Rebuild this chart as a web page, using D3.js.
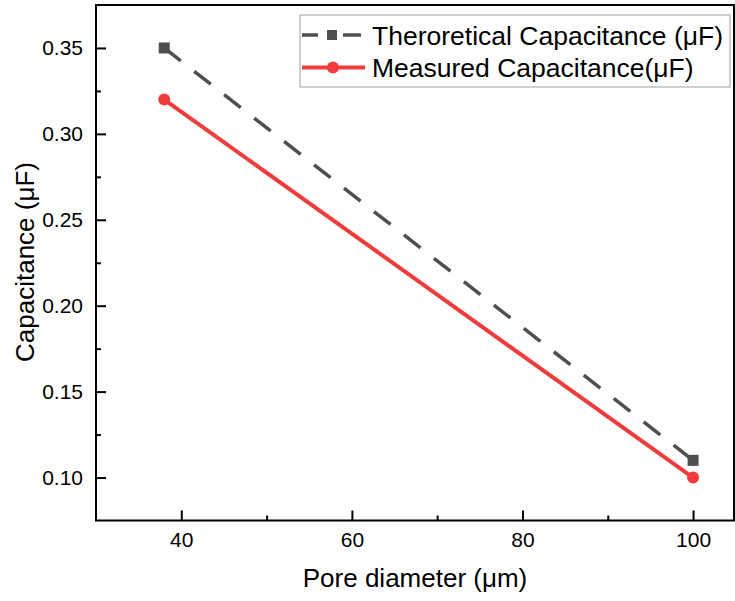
<!DOCTYPE html>
<html>
<head>
<meta charset="utf-8">
<script src="https://cdn.jsdelivr.net/npm/d3@7"></script>
<style>
  html, body { margin: 0; padding: 0; background: #fff; }
  svg { display: block; font-family: Arial, "Liberation Sans", sans-serif; }
</style>
</head>
<body>
<svg id="chart" width="735" height="601"></svg>
<script>
const poreDiameter = [38, 100];
const theoretical = [0.35, 0.11];
const measured = [0.32, 0.10];
const seriesNames = ["Theroretical Capacitance (\u03BCF)", "Measured Capacitance(\u03BCF)"];
const xTicks = [40, 60, 80, 100];
const xMinorTicks = [50, 70, 90];
const yTicks = [0.10, 0.15, 0.20, 0.25, 0.30, 0.35];
const yMinorTicks = [0.125, 0.175, 0.225, 0.275, 0.325];
const xTitle = "Pore diameter (\u03BCm)";
const yTitle = "Capacitance (\u03BCF)";

const svg = d3.select("#chart");
const L = 96, R = 734, T = 5, B = 520.5;
const x = d3.scaleLinear().domain([30, 104.8]).range([L, R]);
const y = d3.scaleLinear().domain([0.075, 0.375]).range([B, T]);

const grayC = "#4f4f4f", redC = "#f03c3c";

// frame
svg.append("rect").attr("x", L).attr("y", T).attr("width", R - L).attr("height", B - T)
  .attr("fill", "none").attr("stroke", "#000").attr("stroke-width", 2);

// axes (inside ticks)
const xAxis = svg.append("g").attr("transform", `translate(0,${B})`)
  .call(d3.axisBottom(x).tickValues(xTicks).tickSize(-10).tickPadding(12).tickFormat(d3.format("d")));
const xMinor = svg.append("g").attr("transform", `translate(0,${B})`)
  .call(d3.axisBottom(x).tickValues(xMinorTicks).tickSize(-5).tickFormat(""));
const yAxis = svg.append("g").attr("transform", `translate(${L},0)`)
  .call(d3.axisLeft(y).tickValues(yTicks).tickSize(-10).tickPadding(13).tickFormat(d3.format(".2f")));
const yMinor = svg.append("g").attr("transform", `translate(${L},0)`)
  .call(d3.axisLeft(y).tickValues(yMinorTicks).tickSize(-5).tickFormat(""));
[xAxis, xMinor, yAxis, yMinor].forEach(g => {
  g.select(".domain").remove();
  g.selectAll(".tick line").attr("stroke", "#000").attr("stroke-width", 2);
  g.selectAll(".tick text").attr("fill", "#000").style("font-size", "21px")
    .style("font-family", "Arial, 'Liberation Sans', sans-serif");
});
xAxis.selectAll(".tick text").attr("dy", "0.71em");

// axis titles
svg.append("text").attr("x", (L + R) / 2).attr("y", 587).attr("text-anchor", "middle")
  .style("font-size", "26px").text(xTitle);
svg.append("text").attr("transform", `translate(34,262) rotate(-90)`).attr("text-anchor", "middle")
  .style("font-size", "26px").text(yTitle);

// lines
const line = d3.line().x(d => x(d[0])).y(d => y(d[1]));
const tData = poreDiameter.map((d, i) => [d, theoretical[i]]);
const mData = poreDiameter.map((d, i) => [d, measured[i]]);

svg.append("path").datum(tData).attr("d", line).attr("fill", "none")
  .attr("stroke", grayC).attr("stroke-width", 3.5).attr("stroke-dasharray", "21,17");
svg.selectAll(".sq").data(tData).enter().append("rect")
  .attr("x", d => x(d[0]) - 5.5).attr("y", d => y(d[1]) - 5.5)
  .attr("width", 11).attr("height", 11).attr("fill", grayC);

svg.append("path").datum(mData).attr("d", line).attr("fill", "none")
  .attr("stroke", redC).attr("stroke-width", 4);
svg.selectAll(".ci").data(mData).enter().append("circle")
  .attr("cx", d => x(d[0])).attr("cy", d => y(d[1])).attr("r", 6).attr("fill", redC);

// legend
const lg = svg.append("g");
lg.append("rect").attr("x", 300).attr("y", 15).attr("width", 430).attr("height", 72)
  .attr("fill", "#fff").attr("stroke", "#a0a0a0").attr("stroke-width", 1);
lg.append("line").attr("x1", 302).attr("x2", 318).attr("y1", 35).attr("y2", 35)
  .attr("stroke", grayC).attr("stroke-width", 3.5);
lg.append("line").attr("x1", 343).attr("x2", 361).attr("y1", 35).attr("y2", 35)
  .attr("stroke", grayC).attr("stroke-width", 3.5);
lg.append("rect").attr("x", 327).attr("y", 30).attr("width", 10).attr("height", 10).attr("fill", grayC);
lg.append("line").attr("x1", 302).attr("x2", 365).attr("y1", 67.5).attr("y2", 67.5)
  .attr("stroke", redC).attr("stroke-width", 4);
lg.append("circle").attr("cx", 333).attr("cy", 67.5).attr("r", 6).attr("fill", redC);
lg.append("text").attr("x", 372).attr("y", 45).style("font-size", "26.5px").text(seriesNames[0]);
lg.append("text").attr("x", 372).attr("y", 77).style("font-size", "26.5px").text(seriesNames[1]);
</script>
</body>
</html>
